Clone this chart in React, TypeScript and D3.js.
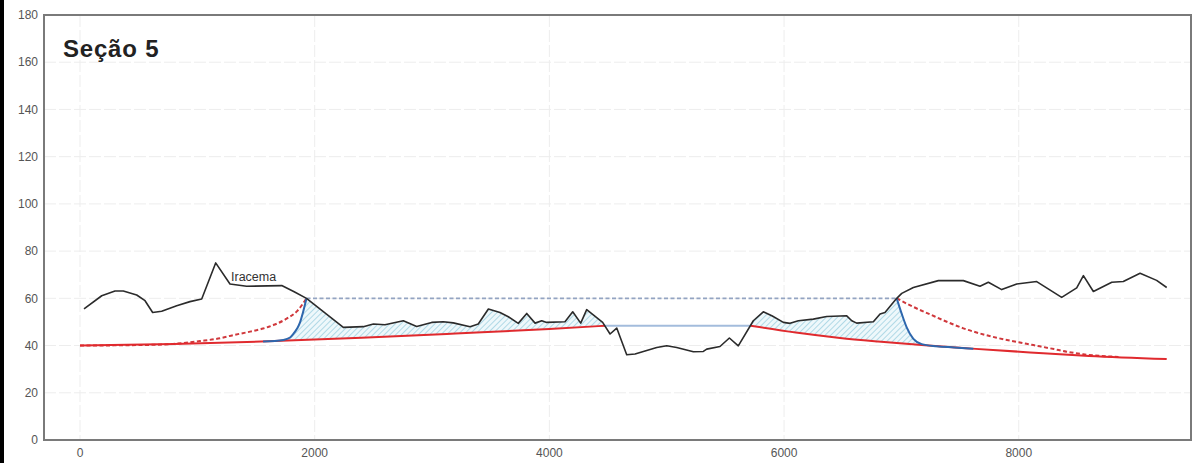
import React from "react";
import * as d3 from "d3";

// ---- data ----
const xTicks = [0, 2000, 4000, 6000, 8000];
const yTicks = [0, 20, 40, 60, 80, 100, 120, 140, 160, 180];

// terrain profile [distance, elevation]
const terrain: [number, number][] = [
  [34, 55.5], [185, 61.1], [298, 63.1], [369, 63.1], [483, 61.4], [554, 59], [619, 54], [696, 54.5],
  [824, 56.9], [937, 58.6], [1037, 59.7], [1156, 75], [1278, 66.1], [1420, 65.1], [1719, 65.4],
  [1825, 62.8], [1930, 60], [2244, 47.7], [2414, 48], [2500, 49.1], [2599, 48.8], [2755, 50.5],
  [2869, 48.1], [2997, 49.8], [3096, 50.1], [3181, 49.6], [3324, 48], [3394, 49.1], [3480, 55.5],
  [3579, 54], [3650, 52.2], [3735, 49.4], [3807, 53.6], [3878, 49.5], [3935, 50.5], [3977, 49.8],
  [4133, 50.1], [4199, 54.3], [4267, 49.5], [4318, 55.2], [4454, 49.8], [4517, 44.9], [4574, 47.4],
  [4659, 36.1], [4730, 36.4], [4915, 39.2], [5000, 39.9], [5085, 39.2], [5227, 37.4], [5312, 37.5],
  [5341, 38.5], [5454, 39.6], [5534, 43.2], [5610, 39.9], [5738, 50.5], [5823, 54.3], [5900, 52.5],
  [5994, 49.8], [6051, 49.4], [6122, 50.5], [6249, 51.2], [6363, 52.3], [6534, 52.6], [6577, 50.5],
  [6619, 49.5], [6761, 50.1], [6818, 53.4], [6860, 54], [6960, 60], [7003, 62.1], [7102, 64.6],
  [7315, 67.5], [7528, 67.5], [7670, 65.1], [7741, 66.8], [7855, 63.7], [7983, 66.1], [8153, 67.1],
  [8366, 60.4], [8494, 64.4], [8551, 69.6], [8636, 62.9], [8793, 66.8], [8891, 67.1], [9034, 70.6],
  [9175, 67.6], [9261, 64.6],
];

// red solid lines (base level)
const redLeft: [number, number][] = [
  [0, 40], [800, 40.7], [1600, 41.8], [2400, 43.3], [3200, 45.1], [4000, 47], [4474, 48.4],
];
const redRight: [number, number][] = [
  [5715, 48.4], [6100, 45.5], [6477, 43.2], [6800, 41.7], [7200, 40.1], [7600, 38.7],
  [8096, 37.1], [8600, 35.6], [9261, 34.3],
];

// red dashed curves
const redDashLeft: [number, number][] = [
  [0, 40], [500, 40.2], [793, 40.7], [1023, 41.9], [1193, 43.1], [1304, 44.4], [1450, 45.9],
  [1560, 47.2], [1660, 48.9], [1761, 51.4], [1850, 54.6], [1930, 60],
];
const redDashRight: [number, number][] = [
  [6960, 60], [7100, 56.4], [7244, 53.2], [7400, 49.8], [7528, 47.3], [7700, 44.7], [7812, 43.3],
  [8000, 41.4], [8125, 40.2], [8300, 38.5], [8409, 37.4], [8550, 36.3], [8700, 35.6], [8850, 35.2],
];

// blue curves
const blueLeft: [number, number][] = [
  [1560, 41.7], [1733, 42.4], [1790, 43.4], [1818, 44.9], [1850, 47.2], [1875, 49.8], [1900, 54], [1930, 60],
];
const blueRight: [number, number][] = [
  [6960, 60], [7003, 53.4], [7045, 47.7], [7102, 42.8], [7173, 40.6], [7301, 39.7], [7450, 39.2], [7613, 38.6],
];

// water level (flat) and max level
const waterLevel: [number, number][] = [[4474, 48.4], [5715, 48.4]];
const maxLevel: [number, number][] = [[1930, 60], [6960, 60]];

const title = "Seção 5";
const label = { text: "Iracema", x: 1287, y: 67.3 };

// ---- helpers ----
function interp(arr: [number, number][], x: number): number {
  for (let i = 0; i < arr.length - 1; i++) {
    const [x0, y0] = arr[i];
    const [x1, y1] = arr[i + 1];
    if (x >= x0 && x <= x1) return y0 + ((x - x0) / (x1 - x0)) * (y1 - y0);
  }
  return x < arr[0][0] ? arr[0][1] : arr[arr.length - 1][1];
}

function within(arr: [number, number][], a: number, b: number) {
  return arr.filter((p) => p[0] > a && p[0] < b);
}

export default function App() {
  const W = 1193;
  const H = 463;
  const left = 44, right = 1191, top = 15, bottom = 440;
  const x = d3.scaleLinear().domain([-307, 9468]).range([left, right]);
  const y = d3.scaleLinear().domain([0, 180]).range([bottom, top]);
  const line = d3.line<[number, number]>().x((d) => x(d[0])).y((d) => y(d[1]));
  const smooth = d3
    .line<[number, number]>()
    .x((d) => x(d[0]))
    .y((d) => y(d[1]))
    .curve(d3.curveMonotoneX);

  // hatched regions
  const l0 = blueLeft[0][0], l1 = redLeft[redLeft.length - 1][0];
  const leftPoly: [number, number][] = [
    ...blueLeft,
    ...within(terrain, blueLeft[blueLeft.length - 1][0], l1),
    [l1, redLeft[redLeft.length - 1][1]],
    ...within(redLeft, l0, l1).reverse(),
    [l0, interp(redLeft, l0)],
  ];
  const r0 = redRight[0][0], r1 = blueRight[5][0];
  const rightPoly: [number, number][] = [
    [r0, redRight[0][1]],
    ...within(terrain, r0, blueRight[0][0]),
    ...blueRight.slice(0, 6),
    ...within(redRight, r0, r1).reverse(),
  ];

  const font = "'Liberation Sans', Arial, sans-serif";

  return (
    <svg
      width={W}
      height={H}
      style={{ position: "absolute", left: 0, top: 0, background: "#fff" }}
    >
      <defs>
        <pattern
          id="hatch"
          patternUnits="userSpaceOnUse"
          width={4}
          height={4}
          patternTransform="rotate(45)"
        >
          <rect width={4} height={4} fill="#eef8fb" />
          <line x1={0} y1={0} x2={0} y2={4} stroke="#86c4d8" strokeWidth={1.2} />
        </pattern>
      </defs>
      <rect x={0} y={0} width={4} height={H} fill="#000" />

      {/* grid */}
      <g stroke="#ededed" strokeWidth={1} strokeDasharray="12,3">
        {yTicks.slice(1, -1).map((t) => (
          <line key={"gy" + t} x1={left} x2={right} y1={y(t)} y2={y(t)} />
        ))}
        {xTicks.map((t) => (
          <line key={"gx" + t} x1={x(t)} x2={x(t)} y1={top} y2={bottom} />
        ))}
      </g>

      {/* hatched areas */}
      <path d={line(leftPoly) + "Z"} fill="url(#hatch)" stroke="none" />
      <path d={line(rightPoly) + "Z"} fill="url(#hatch)" stroke="none" />

      {/* max level dashed */}
      <path d={line(maxLevel)!} fill="none" stroke="#93a4c2" strokeWidth={1.6} strokeDasharray="4,2.5" />

      {/* red dashed */}
      <path d={smooth(redDashLeft)!} fill="none" stroke="#d0383c" strokeWidth={2} strokeDasharray="4,2.5" />
      <path d={smooth(redDashRight)!} fill="none" stroke="#d0383c" strokeWidth={2} strokeDasharray="4,2.5" />

      {/* red solid */}
      <path d={smooth(redLeft)!} fill="none" stroke="#e02a2e" strokeWidth={2} />
      <path d={smooth(redRight)!} fill="none" stroke="#e02a2e" strokeWidth={2} />

      {/* water level */}
      <path d={line(waterLevel)!} fill="none" stroke="#a3bcdc" strokeWidth={2} />

      {/* blue curves */}
      <path d={smooth(blueLeft)!} fill="none" stroke="#2e67ad" strokeWidth={2} />
      <path d={smooth(blueRight)!} fill="none" stroke="#2e67ad" strokeWidth={2} />

      {/* terrain */}
      <path d={line(terrain)!} fill="none" stroke="#2b2b2b" strokeWidth={1.6} strokeLinejoin="round" />

      <text x={x(label.x)} y={y(label.y)} fontFamily={font} fontSize={12.5} fill="#333">
        {label.text}
      </text>

      {/* frame */}
      <rect x={left} y={top} width={right - left} height={bottom - top} fill="none" stroke="#7a7a7a" strokeWidth={2} />

      {/* ticks labels */}
      <g fontFamily={font} fontSize={12} fill="#555">
        {yTicks.map((t) => (
          <text key={"ty" + t} x={38} y={y(t)} dy="0.35em" textAnchor="end">
            {t}
          </text>
        ))}
        {xTicks.map((t) => (
          <text key={"tx" + t} x={x(t)} y={457} textAnchor="middle">
            {t}
          </text>
        ))}
      </g>

      <text x={63} y={57} fontFamily={font} fontWeight="bold" fontSize={24} letterSpacing={0.8} fill="#222">
        {title}
      </text>
    </svg>
  );
}
